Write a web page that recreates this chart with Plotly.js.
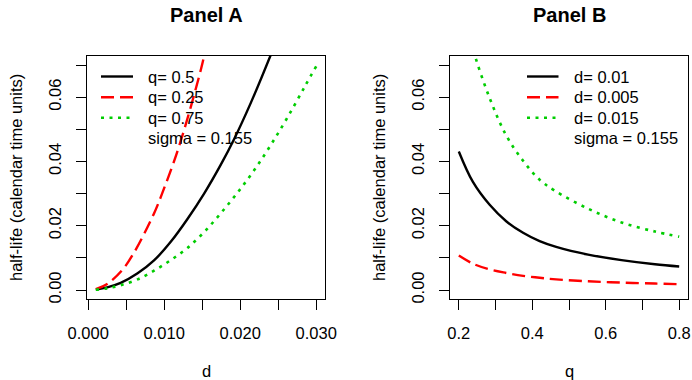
<!DOCTYPE html>
<html><head><meta charset="utf-8">
<script src="https://cdn.plot.ly/plotly-3.0.1.min.js"></script>
<style>html,body{margin:0;padding:0;background:#fff}#chart{width:692px;height:380px}</style>
</head><body><div id="chart"></div>
<script>
// ---- data ----
const sigma = 0.155;

// Panel A: half-life vs d
const dA_q50 = [0.001, 0.0025, 0.00427, 0.0065, 0.00866, 0.01086, 0.01306, 0.01525, 0.01745, 0.01921, 0.02141, 0.02405, 0.0250];
const hA_q50 = [0.0001, 0.0008, 0.0022, 0.0052, 0.0092, 0.0150, 0.0221, 0.0300, 0.0390, 0.0470, 0.0583, 0.0733, 0.0791];
const dA_q25 = [0.001, 0.0025, 0.00448, 0.00602, 0.00866, 0.00998, 0.01129, 0.01261, 0.01459, 0.01525, 0.0158];
const hA_q25 = [0.0003, 0.0019, 0.0062, 0.0116, 0.0238, 0.0316, 0.0400, 0.0497, 0.0664, 0.0727, 0.0780];
const dA_q75 = [0.001, 0.0025, 0.00427, 0.0065, 0.00866, 0.01086, 0.01306, 0.01525, 0.01745, 0.01965, 0.02185, 0.02405, 0.02625, 0.0285, 0.030];
const hA_q75 = [0.0001, 0.0005, 0.0015, 0.0033, 0.0060, 0.0093, 0.0131, 0.0180, 0.0239, 0.0303, 0.0373, 0.0452, 0.0538, 0.0633, 0.0696];

// Panel B: half-life vs q
const qB = [0.2, 0.238, 0.284, 0.329, 0.375, 0.42, 0.465, 0.552, 0.643, 0.734, 0.8];
const hB_d010 = [0.0431, 0.0337, 0.0265, 0.0214, 0.0178, 0.0152, 0.0134, 0.0110, 0.0093, 0.0080, 0.0073];
const hB_d005 = [0.0107, 0.0082, 0.0064, 0.0053, 0.0044, 0.0038, 0.0033, 0.0027, 0.0023, 0.0020, 0.0018];
const qB_d015 = [0.2, 0.22, 0.243, 0.284, 0.329, 0.375, 0.42, 0.461, 0.552, 0.643, 0.734, 0.8];
const hB_d015 = [0.095, 0.083, 0.0732, 0.0597, 0.0481, 0.0402, 0.0343, 0.0309, 0.0253, 0.0210, 0.0182, 0.0166];

const namesA = ['q= 0.5', 'q= 0.25', 'q= 0.75'];
const namesB = ['d= 0.01', 'd= 0.005', 'd= 0.015'];
const sigmaLabel = 'sigma = ' + sigma;

const xTicksA = [0, 0.005, 0.01, 0.015, 0.02, 0.025, 0.03];
const xTextA = ['0.000', '', '0.010', '', '0.020', '', '0.030'];
const xTicksB = [0.2, 0.3, 0.4, 0.5, 0.6, 0.7, 0.8];
const xTextB = ['0.2', '', '0.4', '', '0.6', '', '0.8'];
const yTicks = [0, 0.01, 0.02, 0.03, 0.04, 0.05, 0.06, 0.07];
const yText = ['0.00', '', '0.02', '', '0.04', '', '0.06', ''];

// ---- styles ----
const W = 692, H = 380;
const FONT = 'Liberation Sans, Arial, Helvetica, sans-serif';
const styles = [
  {color: '#000000', width: 2.4, dash: 'solid'},
  {color: '#ff0000', width: 2.4, dash: '13px,6px'},
  {color: '#00cd00', width: 2.6, dash: '3px,5.5px'}
];

function tr(x, y, name, st, xa, ya) {
  return {x: x, y: y, name: name, type: 'scatter', mode: 'lines', xaxis: xa, yaxis: ya,
    line: {color: st.color, width: st.width, dash: st.dash, shape: 'spline', smoothing: 1},
    showlegend: false, hoverinfo: 'skip'};
}

const data = [
  tr(dA_q50, hA_q50, namesA[0], styles[0], 'x', 'y'),
  tr(dA_q25, hA_q25, namesA[1], styles[1], 'x', 'y'),
  tr(dA_q75, hA_q75, namesA[2], styles[2], 'x', 'y'),
  tr(qB, hB_d010, namesB[0], styles[0], 'x2', 'y2'),
  tr(qB, hB_d005, namesB[1], styles[1], 'x2', 'y2'),
  tr(qB_d015, hB_d015, namesB[2], styles[2], 'x2', 'y2')
];

function px(x) { return x / W; }
function py(y) { return 1 - y / H; }

const axisCommon = {
  showline: true, mirror: true, linecolor: '#000', linewidth: 1,
  ticks: 'outside', ticklen: 10, tickwidth: 1, tickcolor: '#000',
  showgrid: false, zeroline: false, fixedrange: true,
  tickfont: {family: FONT, size: 16.5, color: '#000'}
};

const yDomain = [py(299), py(56)];
const layout = {
  width: W, height: H,
  margin: {l: 0, r: 0, t: 0, b: 0},
  paper_bgcolor: '#fff', plot_bgcolor: '#fff',
  showlegend: false,
  font: {family: FONT, color: '#000'},
  xaxis: Object.assign({}, axisCommon, {domain: [px(87), px(325)], range: [-0.00016, 0.03116],
    tickmode: 'array', tickvals: xTicksA, ticktext: xTextA, anchor: 'y', ticklabelstandoff: 9}),
  yaxis: Object.assign({}, axisCommon, {domain: yDomain, range: [-0.0028, 0.0728],
    tickmode: 'array', tickvals: yTicks, ticktext: yText, tickangle: -90, anchor: 'x', ticklabelstandoff: 8}),
  xaxis2: Object.assign({}, axisCommon, {domain: [px(450), px(688)], range: [0.176, 0.824],
    tickmode: 'array', tickvals: xTicksB, ticktext: xTextB, anchor: 'y2', ticklabelstandoff: 9}),
  yaxis2: Object.assign({}, axisCommon, {domain: yDomain, range: [-0.0028, 0.0728],
    tickmode: 'array', tickvals: yTicks, ticktext: yText, tickangle: -90, anchor: 'x2', ticklabelstandoff: 8}),
  annotations: [],
  shapes: []
};

function ann(text, x, y, opts) {
  return Object.assign({text: text, x: px(x), y: py(y), xref: 'paper', yref: 'paper',
    showarrow: false, xanchor: 'center', yanchor: 'middle',
    font: {family: FONT, size: 16.5, color: '#000'}}, opts || {});
}

// titles
layout.annotations.push(ann('Panel A', 206, 15, {font: {family: FONT, size: 20, color: '#000', weight: 'bold'}}));
layout.annotations.push(ann('Panel B', 569, 15, {font: {family: FONT, size: 20, color: '#000', weight: 'bold'}}));
// axis titles
layout.annotations.push(ann('d', 206, 371));
layout.annotations.push(ann('q', 569, 371));
layout.annotations.push(ann('half-life (calendar time units)', 16, 178, {textangle: -90}));
layout.annotations.push(ann('half-life (calendar time units)', 379, 178, {textangle: -90}));

// legends
const rows = [76.5, 97.2, 117.8, 138.4];
function legend(x0, x1, xt, names) {
  names.forEach(function (n, i) {
    layout.shapes.push({type: 'line', xref: 'paper', yref: 'paper',
      x0: px(x0), x1: px(x1), y0: py(rows[i]), y1: py(rows[i]),
      line: {color: styles[i].color, width: styles[i].width, dash: styles[i].dash}});
    layout.annotations.push(ann(n, xt, rows[i], {xanchor: 'left'}));
  });
  layout.annotations.push(ann(sigmaLabel, xt, rows[3], {xanchor: 'left'}));
}
legend(101, 133, 145.5, namesA);
legend(527, 558.5, 572, namesB);

Plotly.newPlot('chart', data, layout, {staticPlot: true, displayModeBar: false});
</script>
</body></html>
